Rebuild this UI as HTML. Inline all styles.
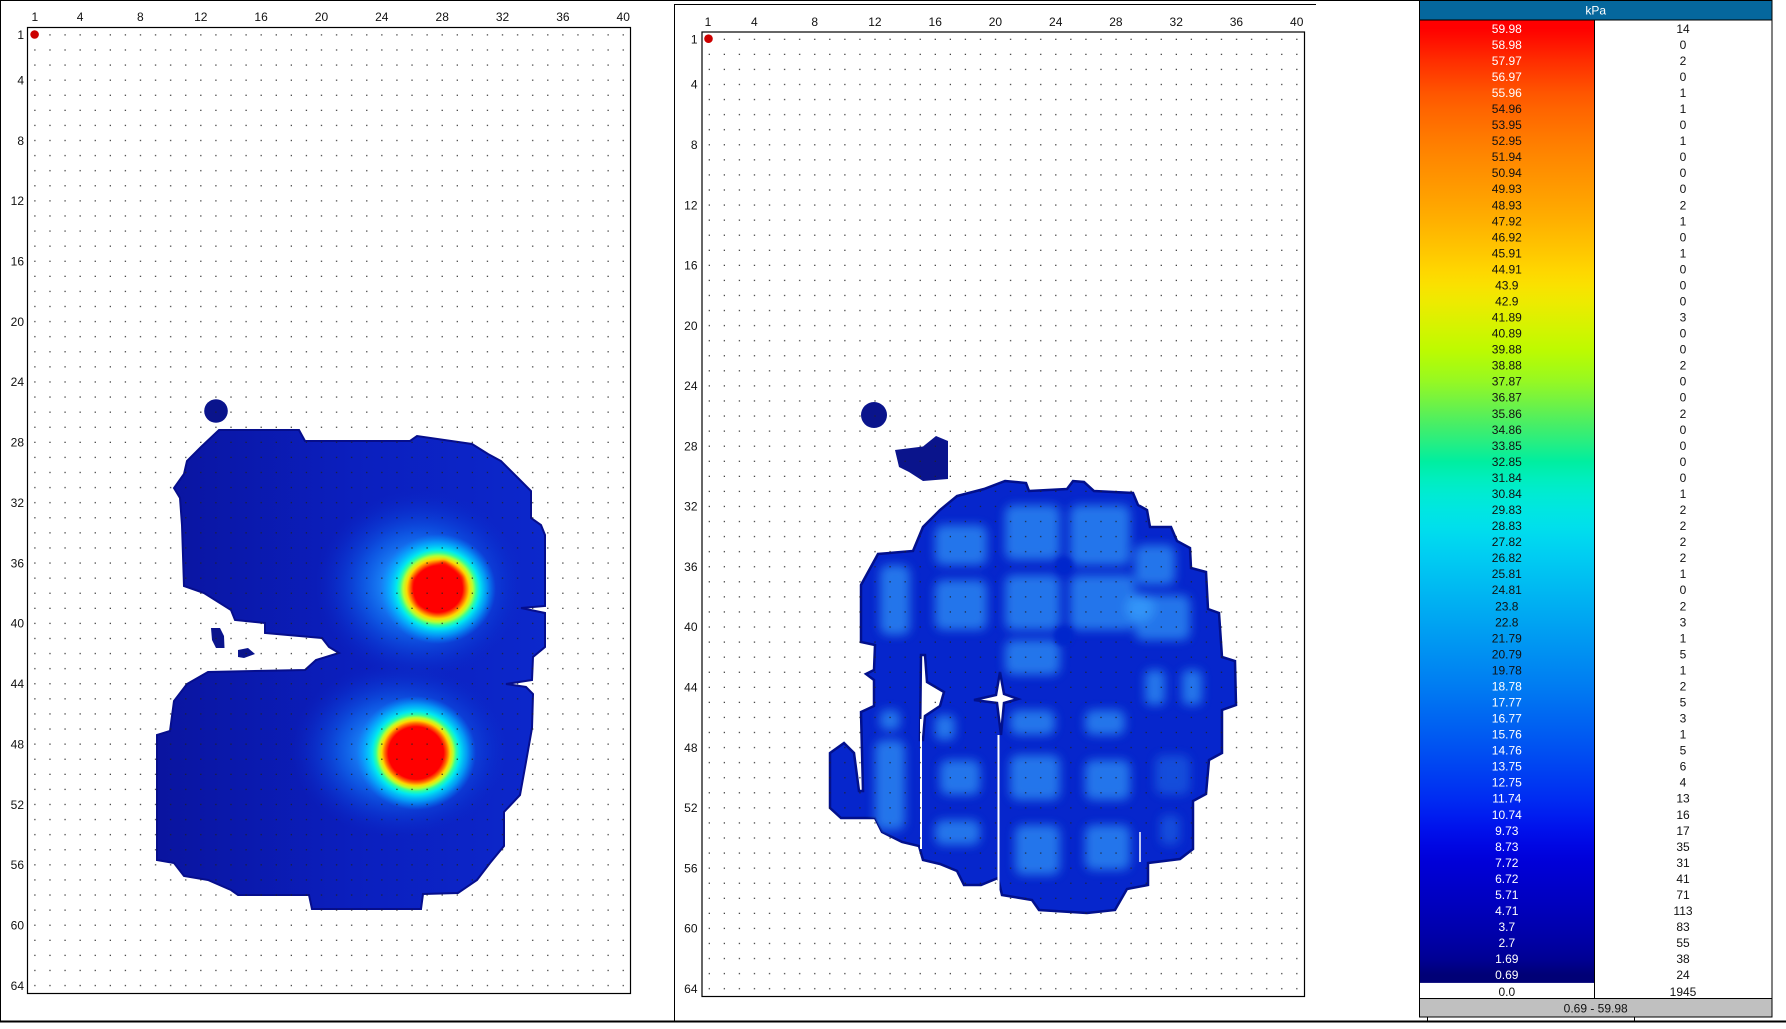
<!DOCTYPE html>
<html><head><meta charset="utf-8"><style>
html,body{margin:0;padding:0;background:#fff;}
body{width:1786px;height:1024px;overflow:hidden;}
svg text{font-family:"Liberation Sans",Arial,sans-serif;font-size:12px;fill:#111;}
</style></head><body>
<svg width="1786" height="1024" viewBox="0 0 1786 1024" xmlns="http://www.w3.org/2000/svg">
<defs>
<pattern id="d1" patternUnits="userSpaceOnUse" x="27.3" y="27.3" width="15.085" height="15.09"><rect x="7" y="7" width="1.2" height="1.2" fill="#222"/></pattern>
<pattern id="d2" patternUnits="userSpaceOnUse" x="701.7" y="31.7" width="15.065" height="15.07"><rect x="7" y="7" width="1.2" height="1.2" fill="#222"/></pattern>
<filter id="bl" x="-20%" y="-20%" width="140%" height="140%"><feGaussianBlur stdDeviation="5"/></filter>
<filter id="bl2" x="-20%" y="-20%" width="140%" height="140%"><feGaussianBlur stdDeviation="2"/></filter>
<path id="p1" d="M219,430 L299,430 L305,441 L410,441 L417,436 L472,444 L488,454 L501,461 L518,478 L531,491 L531,518 L541,525 L545,535 L545,606 L521,608 L545,613 L545,647 L533,657 L532,680 L506,684 L526,687 L533,694 L532,728 L526,762 L520,795 L504,812 L504,846 L490,863 L477,880 L458,893 L423,894 L421,909 L312,909 L309,895 L238,895 L231,890 L208,880 L184,876 L174,863 L157,860 L157,735 L170,731 L174,701 L187,684 L208,672 L305,670 L316,660 L339,653 L329,647 L322,638 L265,633 L265,623 L235,620 L231,610 L204,593 L184,586 L182,525 L180,498 L174,488 L184,474 L187,461 L201,447 Z"/>
<path id="p2" fill-rule="evenodd" d="M1005,481 L1026,483 L1029,491 L1067,489 L1073,481 L1084,482 L1094,491 L1133,493 L1138,505 L1147,510 L1150,527 L1171,527 L1177,541 L1190,548 L1191,568 L1206,572 L1208,609 L1219,613 L1222,657 L1235,661 L1236,705 L1222,710 L1222,753 L1209,760 L1206,794 L1193,801 L1193,849 L1180,859 L1148,863 L1148,885 L1127,889 L1115,910 L1087,913 L1039,910 L1032,900 L1002,895 L998,878 L981,885 L964,885 L957,871 L940,864 L923,860 L919,846 L902,842 L882,832 L875,818 L841,818 L830,808 L830,753 L844,743 L854,753 L859,791 L863,791 L861,712 L874,706 L874,680 L866,674 L874,670 L875,645 L861,642 L861,585 L878,554 L913,551 L923,527 L940,510 L957,496 L984,489 Z M921,655 L925,655 L927,682 L944,692 L940,706 L925,716 L923,740 L920,740 Z M1000,672 L1004,694 L1018,699 L1004,703 L1001,735 L997,703 L974,700 L996,695 Z"/>
<clipPath id="c1"><use href="#p1"/></clipPath>
<clipPath id="c2"><path clip-rule="evenodd" d="M1005,481 L1026,483 L1029,491 L1067,489 L1073,481 L1084,482 L1094,491 L1133,493 L1138,505 L1147,510 L1150,527 L1171,527 L1177,541 L1190,548 L1191,568 L1206,572 L1208,609 L1219,613 L1222,657 L1235,661 L1236,705 L1222,710 L1222,753 L1209,760 L1206,794 L1193,801 L1193,849 L1180,859 L1148,863 L1148,885 L1127,889 L1115,910 L1087,913 L1039,910 L1032,900 L1002,895 L998,878 L981,885 L964,885 L957,871 L940,864 L923,860 L919,846 L902,842 L882,832 L875,818 L841,818 L830,808 L830,753 L844,743 L854,753 L859,791 L863,791 L861,712 L874,706 L874,680 L866,674 L874,670 L875,645 L861,642 L861,585 L878,554 L913,551 L923,527 L940,510 L957,496 L984,489 Z M921,655 L925,655 L927,682 L944,692 L940,706 L925,716 L923,740 L920,740 Z M1000,672 L1004,694 L1018,699 L1004,703 L1001,735 L997,703 L974,700 L996,695 Z"/></clipPath>
<linearGradient id="base1" gradientUnits="userSpaceOnUse" x1="157" y1="0" x2="550" y2="0">
<stop offset="0" stop-color="#0a149f"/><stop offset="0.5" stop-color="#0b1fbe"/><stop offset="1" stop-color="#0c28cc"/>
</linearGradient>
<radialGradient id="halo">
<stop offset="0" stop-color="#3cb8ff" stop-opacity="1"/>
<stop offset="0.3" stop-color="#1e96ff" stop-opacity="0.95"/>
<stop offset="0.55" stop-color="#0f6cf0" stop-opacity="0.7"/>
<stop offset="0.8" stop-color="#0a44dc" stop-opacity="0.35"/>
<stop offset="1" stop-color="#0a2ac8" stop-opacity="0"/>
</radialGradient>
<radialGradient id="coreU">
<stop offset="0" stop-color="#ff0000"/>
<stop offset="0.42" stop-color="#ff0000"/>
<stop offset="0.48" stop-color="#ff6a00"/>
<stop offset="0.54" stop-color="#ffd800"/>
<stop offset="0.60" stop-color="#b8ff30"/>
<stop offset="0.66" stop-color="#30ffa0"/>
<stop offset="0.72" stop-color="#00e8f0"/>
<stop offset="0.84" stop-color="#00b8ff" stop-opacity="0.7"/>
<stop offset="1" stop-color="#0090ff" stop-opacity="0"/>
</radialGradient>
<radialGradient id="coreL">
<stop offset="0" stop-color="#ff0000"/>
<stop offset="0.46" stop-color="#ff0000"/>
<stop offset="0.52" stop-color="#ff6a00"/>
<stop offset="0.57" stop-color="#ffd800"/>
<stop offset="0.62" stop-color="#b8ff30"/>
<stop offset="0.67" stop-color="#30ffa0"/>
<stop offset="0.73" stop-color="#00e8f0"/>
<stop offset="0.85" stop-color="#00b8ff" stop-opacity="0.7"/>
<stop offset="1" stop-color="#0090ff" stop-opacity="0"/>
</radialGradient>
<linearGradient id="lg" x1="0" y1="0" x2="0" y2="1">
<stop offset=".0083" stop-color="rgb(255,0,0)"/>
<stop offset=".025" stop-color="rgb(255,22,0)"/>
<stop offset=".0417" stop-color="rgb(255,45,0)"/>
<stop offset=".0583" stop-color="rgb(255,65,0)"/>
<stop offset=".075" stop-color="rgb(255,85,0)"/>
<stop offset=".0917" stop-color="rgb(255,100,0)"/>
<stop offset=".1083" stop-color="rgb(255,112,0)"/>
<stop offset=".125" stop-color="rgb(255,124,0)"/>
<stop offset=".1417" stop-color="rgb(255,135,0)"/>
<stop offset=".1583" stop-color="rgb(255,145,0)"/>
<stop offset=".175" stop-color="rgb(255,155,0)"/>
<stop offset=".1917" stop-color="rgb(255,165,0)"/>
<stop offset=".2083" stop-color="rgb(255,176,0)"/>
<stop offset=".225" stop-color="rgb(255,188,0)"/>
<stop offset=".2417" stop-color="rgb(255,200,0)"/>
<stop offset=".2583" stop-color="rgb(255,213,0)"/>
<stop offset=".275" stop-color="rgb(250,225,0)"/>
<stop offset=".2917" stop-color="rgb(238,234,0)"/>
<stop offset=".3083" stop-color="rgb(222,240,0)"/>
<stop offset=".325" stop-color="rgb(206,246,0)"/>
<stop offset=".3417" stop-color="rgb(190,250,0)"/>
<stop offset=".3583" stop-color="rgb(170,250,15)"/>
<stop offset=".375" stop-color="rgb(150,248,35)"/>
<stop offset=".3917" stop-color="rgb(122,244,60)"/>
<stop offset=".4083" stop-color="rgb(92,240,85)"/>
<stop offset=".425" stop-color="rgb(62,238,110)"/>
<stop offset=".4417" stop-color="rgb(32,238,135)"/>
<stop offset=".4583" stop-color="rgb(0,238,160)"/>
<stop offset=".475" stop-color="rgb(0,238,188)"/>
<stop offset=".4917" stop-color="rgb(0,235,210)"/>
<stop offset=".5083" stop-color="rgb(0,230,225)"/>
<stop offset=".525" stop-color="rgb(0,224,235)"/>
<stop offset=".5417" stop-color="rgb(0,214,240)"/>
<stop offset=".5583" stop-color="rgb(0,204,242)"/>
<stop offset=".575" stop-color="rgb(0,194,242)"/>
<stop offset=".5917" stop-color="rgb(0,184,242)"/>
<stop offset=".6083" stop-color="rgb(0,174,242)"/>
<stop offset=".625" stop-color="rgb(0,164,242)"/>
<stop offset=".6417" stop-color="rgb(0,154,242)"/>
<stop offset=".6583" stop-color="rgb(0,144,242)"/>
<stop offset=".675" stop-color="rgb(0,134,242)"/>
<stop offset=".6917" stop-color="rgb(0,124,242)"/>
<stop offset=".7083" stop-color="rgb(0,113,242)"/>
<stop offset=".725" stop-color="rgb(0,102,242)"/>
<stop offset=".7417" stop-color="rgb(0,91,242)"/>
<stop offset=".7583" stop-color="rgb(0,80,242)"/>
<stop offset=".775" stop-color="rgb(0,68,242)"/>
<stop offset=".7917" stop-color="rgb(0,56,242)"/>
<stop offset=".8083" stop-color="rgb(0,44,242)"/>
<stop offset=".825" stop-color="rgb(0,30,240)"/>
<stop offset=".8417" stop-color="rgb(0,16,235)"/>
<stop offset=".8583" stop-color="rgb(0,6,226)"/>
<stop offset=".875" stop-color="rgb(0,0,216)"/>
<stop offset=".8917" stop-color="rgb(0,0,206)"/>
<stop offset=".9083" stop-color="rgb(0,0,196)"/>
<stop offset=".925" stop-color="rgb(0,0,186)"/>
<stop offset=".9417" stop-color="rgb(0,0,175)"/>
<stop offset=".9583" stop-color="rgb(0,0,163)"/>
<stop offset=".975" stop-color="rgb(0,0,148)"/>
<stop offset=".9917" stop-color="rgb(0,0,118)"/>
</linearGradient>
</defs>

<!-- page frame -->
<line x1="0" y1="0.5" x2="1420" y2="0.5" stroke="#000" stroke-width="1"/>
<line x1="0.5" y1="0" x2="0.5" y2="1022" stroke="#000" stroke-width="1"/>
<rect x="0" y="1020.5" width="1786" height="2" fill="#000"/>
<line x1="674" y1="4.5" x2="1316" y2="4.5" stroke="#000" stroke-width="1"/>
<line x1="674.5" y1="4.5" x2="674.5" y2="1021" stroke="#000" stroke-width="1"/>

<!-- ===== PLOT 1 ===== -->
<g>
<use href="#p1" fill="url(#base1)" stroke="#060e8c" stroke-width="2"/>
<g clip-path="url(#c1)">
<ellipse cx="420" cy="585" rx="105" ry="95" fill="url(#halo)"/>
<ellipse cx="400" cy="750" rx="110" ry="88" fill="url(#halo)"/>
<ellipse cx="438" cy="589" rx="58" ry="55" fill="url(#coreU)"/>
<polygon points="413,579 444,561 463,578 453,605 437,612 418,605" fill="#ff0000" filter="url(#bl2)"/>
<ellipse cx="416" cy="753" rx="60" ry="57" fill="url(#coreL)"/>
</g>
<circle cx="216" cy="411" r="11.8" fill="#0a148c"/>
<polygon points="211,628 220,628 224,636 224.5,648 216,648 212,640" fill="#0a148c"/>
<polygon points="238,650 248,648 255,654 244,658 238,657" fill="#0a148c"/>
</g>
<rect x="27.3" y="27.3" width="603.4" height="966" fill="url(#d1)"/>
<rect x="27.5" y="27.5" width="603" height="966" fill="none" stroke="#000" stroke-width="1.2"/>
<circle cx="34.6" cy="34.5" r="4.3" fill="#cc0000"/>
<g text-anchor="middle">
<text x="34.8" y="21">1</text><text x="80.1" y="21">4</text><text x="140.4" y="21">8</text><text x="200.8" y="21">12</text><text x="261.1" y="21">16</text><text x="321.5" y="21">20</text><text x="381.8" y="21">24</text><text x="442.2" y="21">28</text><text x="502.5" y="21">32</text><text x="562.9" y="21">36</text><text x="623.2" y="21">40</text>
</g>
<g text-anchor="end">
<text x="24" y="39.1">1</text><text x="24" y="84.4">4</text><text x="24" y="144.8">8</text><text x="24" y="205.1">12</text><text x="24" y="265.5">16</text><text x="24" y="325.9">20</text><text x="24" y="386.2">24</text><text x="24" y="446.6">28</text><text x="24" y="507">32</text><text x="24" y="567.3">36</text><text x="24" y="627.7">40</text><text x="24" y="688">44</text><text x="24" y="748.4">48</text><text x="24" y="808.8">52</text><text x="24" y="869.1">56</text><text x="24" y="929.5">60</text><text x="24" y="989.8">64</text>
</g>

<!-- ===== PLOT 2 ===== -->
<g>
<use href="#p2" fill="#0626cc" stroke="#02108c" stroke-width="2.5"/>
<g clip-path="url(#c2)">
<g filter="url(#bl)" fill="#2a84f0" opacity="0.85">
<rect x="880" y="565" width="30" height="70" rx="8"/>
<rect x="935" y="525" width="52" height="40" rx="8"/>
<rect x="935" y="580" width="52" height="50" rx="8"/>
<rect x="1005" y="505" width="55" height="55" rx="8"/>
<rect x="1005" y="575" width="55" height="55" rx="8"/>
<rect x="1005" y="640" width="55" height="35" rx="8"/>
<rect x="1070" y="505" width="60" height="60" rx="8"/>
<rect x="1070" y="575" width="65" height="55" rx="8"/>
<rect x="1135" y="545" width="40" height="40" rx="8"/>
<rect x="1135" y="595" width="55" height="45" rx="8"/>
<rect x="1145" y="670" width="20" height="35" rx="6"/>
<rect x="1182" y="670" width="20" height="35" rx="6"/>
<rect x="875" y="740" width="30" height="90" rx="8"/>
<rect x="880" y="710" width="20" height="20" rx="6"/>
<rect x="935" y="715" width="20" height="25" rx="6"/>
<rect x="940" y="760" width="40" height="35" rx="8"/>
<rect x="935" y="820" width="45" height="25" rx="8"/>
<rect x="1010" y="710" width="45" height="25" rx="8"/>
<rect x="1010" y="755" width="50" height="45" rx="8"/>
<rect x="1015" y="825" width="45" height="50" rx="8"/>
<rect x="1085" y="710" width="40" height="25" rx="8"/>
<rect x="1085" y="760" width="45" height="40" rx="8"/>
<rect x="1085" y="825" width="45" height="45" rx="8"/>
<rect x="1155" y="755" width="35" height="40" rx="8" opacity="0.5"/>
<rect x="1160" y="815" width="20" height="30" rx="6" opacity="0.5"/>
<ellipse cx="1140" cy="608" rx="14" ry="14" fill="#3aa8ff"/>
</g>
<g filter="url(#bl2)" fill="#0626cc">
<circle cx="1064" cy="566" r="9"/>
<circle cx="1064" cy="636" r="10"/>
</g>
</g>
<line x1="921" y1="719" x2="921" y2="849" stroke="#fff" stroke-width="2"/>
<line x1="998.5" y1="735" x2="998.5" y2="895" stroke="#fff" stroke-width="2"/>
<line x1="1140" y1="832" x2="1140" y2="862" stroke="#fff" stroke-width="1.5"/>
<circle cx="874" cy="415" r="13" fill="#0a148c"/>
<polygon points="895,450 923,446.5 936,436 948,441 948,479 923,481 909,472 899,467" fill="#0a148c"/>
</g>
<rect x="701.7" y="31.7" width="602.6" height="964.5" fill="url(#d2)"/>
<rect x="702" y="32" width="602.5" height="964.5" fill="none" stroke="#000" stroke-width="1.2"/>
<circle cx="708.5" cy="38.7" r="4.3" fill="#cc0000"/>
<g text-anchor="middle">
<text x="708" y="26">1</text><text x="754.4" y="26">4</text><text x="814.7" y="26">8</text><text x="874.9" y="26">12</text><text x="935.2" y="26">16</text><text x="995.4" y="26">20</text><text x="1055.7" y="26">24</text><text x="1115.9" y="26">28</text><text x="1176.2" y="26">32</text><text x="1236.4" y="26">36</text><text x="1296.7" y="26">40</text>
</g>
<g text-anchor="end">
<text x="697.5" y="43.5">1</text><text x="697.5" y="88.7">4</text><text x="697.5" y="149">8</text><text x="697.5" y="209.3">12</text><text x="697.5" y="269.6">16</text><text x="697.5" y="329.8">20</text><text x="697.5" y="390.1">24</text><text x="697.5" y="450.4">28</text><text x="697.5" y="510.7">32</text><text x="697.5" y="570.9">36</text><text x="697.5" y="631.2">40</text><text x="697.5" y="691.5">44</text><text x="697.5" y="751.8">48</text><text x="697.5" y="812.1">52</text><text x="697.5" y="872.3">56</text><text x="697.5" y="932.6">60</text><text x="697.5" y="992.9">64</text>
</g>

<!-- ===== LEGEND ===== -->
<rect x="1419.5" y="0.5" width="352.5" height="1016.5" fill="#fff"/>
<rect x="1419.5" y="0.5" width="352.5" height="19.5" fill="#05679d"/>
<text x="1595.7" y="14.5" text-anchor="middle" style="fill:#fff">kPa</text>
<rect x="1419.5" y="20.5" width="175" height="962.4" fill="url(#lg)"/>
<line x1="1419.5" y1="20" x2="1772" y2="20" stroke="#000" stroke-width="1"/>
<line x1="1594.5" y1="20" x2="1594.5" y2="998.5" stroke="#000" stroke-width="1"/>
<rect x="1419.5" y="998.5" width="352.5" height="18.5" fill="#c0c0c0" stroke="#000" stroke-width="1"/>
<text x="1595.7" y="1012.5" text-anchor="middle">0.69 - 59.98</text>
<rect x="1419.5" y="0.5" width="352.5" height="1016.5" fill="none" stroke="#000" stroke-width="1"/>
<line x1="1427.5" y1="1017" x2="1427.5" y2="1021" stroke="#000" stroke-width="1"/>
<line x1="1634.5" y1="1017" x2="1634.5" y2="1021" stroke="#000" stroke-width="1"/>

<g text-anchor="middle">
<text x="1506.8" y="32.8" style="fill:#fff">59.98</text>
<text x="1506.8" y="48.9" style="fill:#fff">58.98</text>
<text x="1506.8" y="64.9" style="fill:#fff">57.97</text>
<text x="1506.8" y="80.9" style="fill:#fff">56.97</text>
<text x="1506.8" y="97" style="fill:#fff">55.96</text>
<text x="1506.8" y="113">54.96</text>
<text x="1506.8" y="129.1">53.95</text>
<text x="1506.8" y="145.1">52.95</text>
<text x="1506.8" y="161.1">51.94</text>
<text x="1506.8" y="177.2">50.94</text>
<text x="1506.8" y="193.2">49.93</text>
<text x="1506.8" y="209.3">48.93</text>
<text x="1506.8" y="225.3">47.92</text>
<text x="1506.8" y="241.3">46.92</text>
<text x="1506.8" y="257.4">45.91</text>
<text x="1506.8" y="273.4">44.91</text>
<text x="1506.8" y="289.5">43.9</text>
<text x="1506.8" y="305.5">42.9</text>
<text x="1506.8" y="321.5">41.89</text>
<text x="1506.8" y="337.6">40.89</text>
<text x="1506.8" y="353.6">39.88</text>
<text x="1506.8" y="369.7">38.88</text>
<text x="1506.8" y="385.7">37.87</text>
<text x="1506.8" y="401.7">36.87</text>
<text x="1506.8" y="417.8">35.86</text>
<text x="1506.8" y="433.8">34.86</text>
<text x="1506.8" y="449.9">33.85</text>
<text x="1506.8" y="465.9">32.85</text>
<text x="1506.8" y="481.9">31.84</text>
<text x="1506.8" y="498">30.84</text>
<text x="1506.8" y="514">29.83</text>
<text x="1506.8" y="530.1">28.83</text>
<text x="1506.8" y="546.1">27.82</text>
<text x="1506.8" y="562.1">26.82</text>
<text x="1506.8" y="578.2">25.81</text>
<text x="1506.8" y="594.2">24.81</text>
<text x="1506.8" y="610.3">23.8</text>
<text x="1506.8" y="626.3">22.8</text>
<text x="1506.8" y="642.3">21.79</text>
<text x="1506.8" y="658.4">20.79</text>
<text x="1506.8" y="674.4">19.78</text>
<text x="1506.8" y="690.5" style="fill:#fff">18.78</text>
<text x="1506.8" y="706.5" style="fill:#fff">17.77</text>
<text x="1506.8" y="722.5" style="fill:#fff">16.77</text>
<text x="1506.8" y="738.6" style="fill:#fff">15.76</text>
<text x="1506.8" y="754.6" style="fill:#fff">14.76</text>
<text x="1506.8" y="770.7" style="fill:#fff">13.75</text>
<text x="1506.8" y="786.7" style="fill:#fff">12.75</text>
<text x="1506.8" y="802.7" style="fill:#fff">11.74</text>
<text x="1506.8" y="818.8" style="fill:#fff">10.74</text>
<text x="1506.8" y="834.8" style="fill:#fff">9.73</text>
<text x="1506.8" y="850.9" style="fill:#fff">8.73</text>
<text x="1506.8" y="866.9" style="fill:#fff">7.72</text>
<text x="1506.8" y="882.9" style="fill:#fff">6.72</text>
<text x="1506.8" y="899" style="fill:#fff">5.71</text>
<text x="1506.8" y="915" style="fill:#fff">4.71</text>
<text x="1506.8" y="931.1" style="fill:#fff">3.7</text>
<text x="1506.8" y="947.1" style="fill:#fff">2.7</text>
<text x="1506.8" y="963.1" style="fill:#fff">1.69</text>
<text x="1506.8" y="979.2" style="fill:#fff">0.69</text>
<text x="1506.8" y="996">0.0</text>

<text x="1683" y="32.8">14</text>
<text x="1683" y="48.9">0</text>
<text x="1683" y="64.9">2</text>
<text x="1683" y="80.9">0</text>
<text x="1683" y="97">1</text>
<text x="1683" y="113">1</text>
<text x="1683" y="129.1">0</text>
<text x="1683" y="145.1">1</text>
<text x="1683" y="161.1">0</text>
<text x="1683" y="177.2">0</text>
<text x="1683" y="193.2">0</text>
<text x="1683" y="209.3">2</text>
<text x="1683" y="225.3">1</text>
<text x="1683" y="241.3">0</text>
<text x="1683" y="257.4">1</text>
<text x="1683" y="273.4">0</text>
<text x="1683" y="289.5">0</text>
<text x="1683" y="305.5">0</text>
<text x="1683" y="321.5">3</text>
<text x="1683" y="337.6">0</text>
<text x="1683" y="353.6">0</text>
<text x="1683" y="369.7">2</text>
<text x="1683" y="385.7">0</text>
<text x="1683" y="401.7">0</text>
<text x="1683" y="417.8">2</text>
<text x="1683" y="433.8">0</text>
<text x="1683" y="449.9">0</text>
<text x="1683" y="465.9">0</text>
<text x="1683" y="481.9">0</text>
<text x="1683" y="498">1</text>
<text x="1683" y="514">2</text>
<text x="1683" y="530.1">2</text>
<text x="1683" y="546.1">2</text>
<text x="1683" y="562.1">2</text>
<text x="1683" y="578.2">1</text>
<text x="1683" y="594.2">0</text>
<text x="1683" y="610.3">2</text>
<text x="1683" y="626.3">3</text>
<text x="1683" y="642.3">1</text>
<text x="1683" y="658.4">5</text>
<text x="1683" y="674.4">1</text>
<text x="1683" y="690.5">2</text>
<text x="1683" y="706.5">5</text>
<text x="1683" y="722.5">3</text>
<text x="1683" y="738.6">1</text>
<text x="1683" y="754.6">5</text>
<text x="1683" y="770.7">6</text>
<text x="1683" y="786.7">4</text>
<text x="1683" y="802.7">13</text>
<text x="1683" y="818.8">16</text>
<text x="1683" y="834.8">17</text>
<text x="1683" y="850.9">35</text>
<text x="1683" y="866.9">31</text>
<text x="1683" y="882.9">41</text>
<text x="1683" y="899">71</text>
<text x="1683" y="915">113</text>
<text x="1683" y="931.1">83</text>
<text x="1683" y="947.1">55</text>
<text x="1683" y="963.1">38</text>
<text x="1683" y="979.2">24</text>
<text x="1683" y="996">1945</text>
</g>
</svg>
</body></html>
